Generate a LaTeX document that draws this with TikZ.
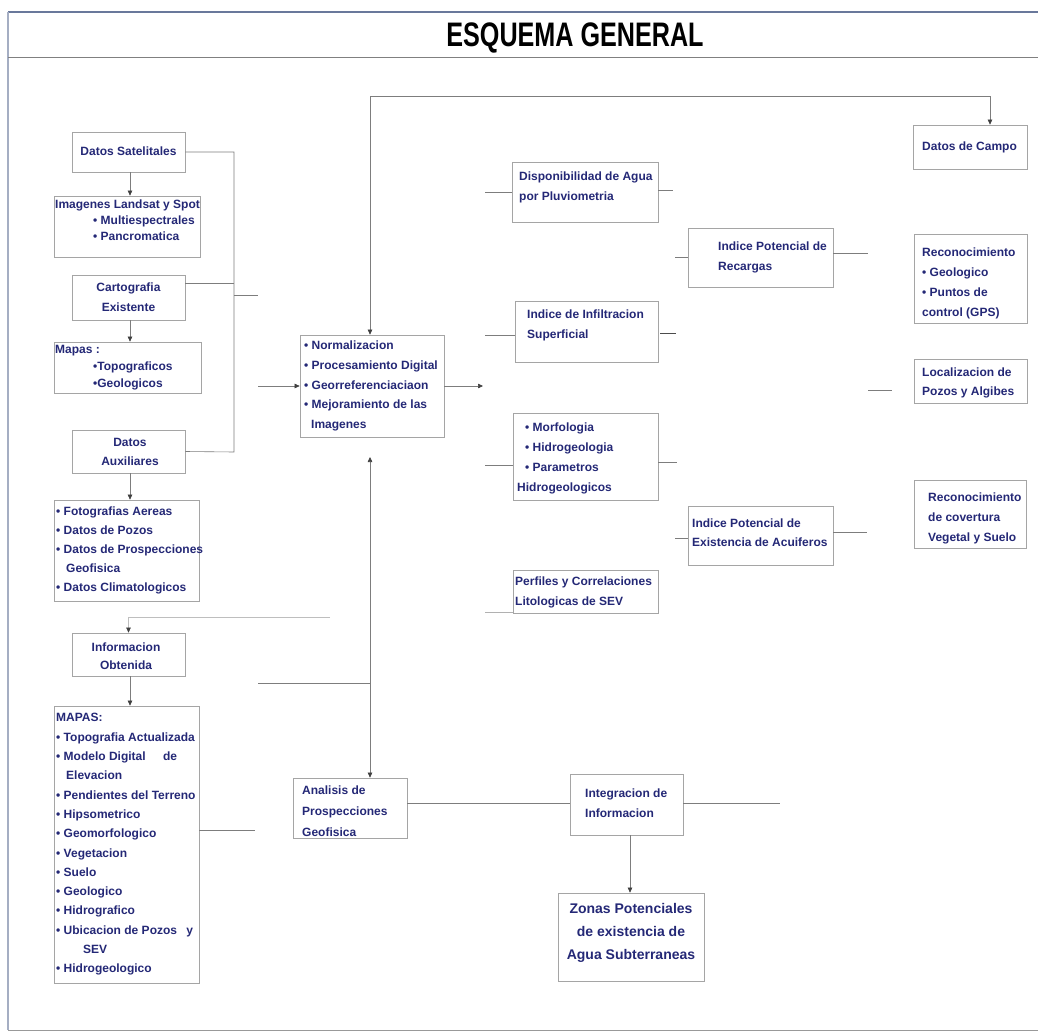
\documentclass[tikz,border=0pt]{standalone}
\usepackage{fontspec}
\setmainfont{Liberation Sans}
\newfontfamily\titlefont{Liberation Sans}[FakeStretch=0.74]
\usetikzlibrary{arrows.meta}
\definecolor{txt}{RGB}{36,40,118}
\definecolor{edgec}{RGB}{165,165,165}
\definecolor{wirec}{RGB}{125,125,125}
\definecolor{framec}{RGB}{105,120,155}
\newcommand{\fsz}[2]{\fontsize{#1}{#2}\selectfont\bfseries}
\newcommand{\mkbox}[5]{\node[box, minimum width={(#4-#2)*1pt}, minimum height={(#5-#3)*1pt}] (#1) at ({(#2+#4)/2},{(#3+#5)/2}) {};}
\begin{document}
\begin{tikzpicture}[x=1pt,y=-1pt,
  box/.style={draw=edgec, line width=0.7pt, rectangle, inner sep=0pt},
  lbl/.style={inner sep=0pt, anchor=west, align=left, text=txt, font=\fsz{12}{20}},
  clbl/.style={inner sep=0pt, align=center, text=txt, font=\fsz{12}{20}},
  wire/.style={draw=wirec, line width=0.6pt},
  >={Triangle[length=5pt,width=4.5pt,color=black!75]}
]
\useasboundingbox (0,0) rectangle (1038,1035);
% frame
\draw[framec, line width=1.6pt] (8,12) -- (1038,12);
\draw[framec!60, line width=1.2pt] (8,12) -- (8,1030);
\draw[gray, line width=1pt] (8,58) -- (1038,58);
\draw[gray!80, line width=1pt] (8,1030) -- (1038,1030);
\node[inner sep=0pt] (title) at (575,38) {\titlefont\fontsize{34}{34}\selectfont\bfseries ESQUEMA GENERAL};

% boxes
\mkbox{sat}{72}{132}{185}{172}
\mkbox{img}{54}{196}{200}{257}
\mkbox{cart}{72}{275}{185}{320}
\mkbox{mapa}{54}{342}{201}{393}
\mkbox{aux}{72}{430}{185}{473}
\mkbox{dat}{54}{500}{199}{601}
\mkbox{info}{72}{633}{185}{676}
\mkbox{mapas}{54}{706}{199}{983}
\mkbox{norm}{300}{335}{444}{437}
\mkbox{disp}{512}{162}{658}{222}
\mkbox{rec}{688}{228}{833}{287}
\mkbox{infil}{515}{301}{658}{362}
\mkbox{morf}{513}{413}{658}{500}
\mkbox{acu}{688}{506}{833}{565}
\mkbox{perf}{513}{570}{658}{613}
\mkbox{campo}{913}{125}{1027}{169}
\mkbox{recg}{914}{234}{1027}{323}
\mkbox{loc}{914}{359}{1027}{403}
\mkbox{recv}{914}{480}{1026}{548}
\mkbox{anal}{293}{778}{407}{838}
\mkbox{integ}{570}{774}{683}{835}
\mkbox{zonas}{558}{893}{704}{981}

% texts
\node[clbl] (sat-t) at (128.5,151) {Datos Satelitales};
\node[lbl, font=\fsz{12}{16}] (img-t) at (55,220) {Imagenes Landsat y Spot\\\hspace{38pt}• Multiespectrales\\\hspace{38pt}• Pancromatica};
\node[clbl] (cart-t) at (128.5,297) {Cartografia\\Existente};
\node[lbl, font=\fsz{12}{17}] (mapa-t) at (55,368) {Mapas :\\\hspace{38pt}•Topograficos\\\hspace{38pt}•Geologicos};
\node[clbl, font=\fsz{12}{19}] (aux-t) at (130,451.5) {Datos\\Auxiliares};
\node[lbl, font=\fsz{12}{19}] (dat-t) at (56,550.5) {• Fotografias Aereas\\• Datos de Pozos\\• Datos de Prospecciones\\\hspace{10pt}Geofisica\\• Datos Climatologicos};
\node[clbl, font=\fsz{12}{18}] (info-t) at (126,656) {Informacion\\Obtenida};
\node[lbl, font=\fsz{12}{19.3}] (mapas-t) at (56,844.5) {MAPAS:\\• Topografia Actualizada\\• Modelo Digital\hspace{14pt} de\\\hspace{10pt}Elevacion\\• Pendientes del Terreno\\• Hipsometrico\\• Geomorfologico\\• Vegetacion\\• Suelo\\• Geologico\\• Hidrografico\\• Ubicacion de Pozos\hspace{6pt} y\\\hspace{27pt}SEV\\• Hidrogeologico};
\node[lbl, font=\fsz{12}{19.7}] (norm-t) at (304,386) {• Normalizacion\\• Procesamiento Digital\\• Georreferenciaciaon\\• Mejoramiento de las\\\hspace{7pt}Imagenes};
\node[lbl] (disp-t) at (519,187) {Disponibilidad de Agua\\por Pluviometria};
\node[lbl] (rec-t) at (718,257) {Indice Potencial de\\Recargas};
\node[lbl] (infil-t) at (527,325) {Indice de Infiltracion\\Superficial};
\node[lbl] (morf-t) at (517,458) {\hspace{8pt}• Morfologia\\\hspace{8pt}• Hidrogeologia\\\hspace{8pt}• Parametros\\Hidrogeologicos};
\node[lbl, font=\fsz{12}{19}] (acu-t) at (692,532.5) {Indice Potencial de\\Existencia de Acuiferos};
\node[lbl] (perf-t) at (515,592) {Perfiles y Correlaciones\\Litologicas de SEV};
\node[lbl] (campo-t) at (922,147) {Datos de Campo};
\node[lbl] (recg-t) at (922,283) {Reconocimiento\\• Geologico\\• Puntos de\\control (GPS)};
\node[lbl, font=\fsz{12}{19}] (loc-t) at (922,382.5) {Localizacion de\\Pozos y Algibes};
\node[lbl] (recv-t) at (928,518) {Reconocimiento\\de covertura\\Vegetal y Suelo};
\node[lbl, font=\fsz{12}{21}] (anal-t) at (302,811) {Analisis de\\Prospecciones\\Geofisica};
\node[lbl] (integ-t) at (585,803) {Integracion de\\Informacion};
\node[clbl, font=\fsz{14}{23}] (zonas-t) at (631,933) {Zonas Potenciales\\de existencia de\\Agua Subterraneas};

% left column arrows
\draw[wire,->] (sat.south -| 130,0) -- (img.north -| 130,0);
\draw[wire,->] (cart.south -| 130,0) -- (mapa.north -| 130,0);
\draw[wire,->] (aux.south -| 130,0) -- (dat.north -| 130,0);
\draw[wire,->] (info.south -| 130,0) -- (mapas.north -| 130,0);
\coordinate (h2) at (330,617);
\draw[wire,draw=wirec!50,->] (h2) -- (info.north |- h2) -- (info.north);

% left bus
\coordinate (busT) at (234,152);
\coordinate (busB) at (234,452);
\draw[wire] (sat.east) -- (busT) -- (busB) -- (aux.east);
\draw[wire] (cart.east |- 0,283) -- (234,283);
\coordinate (s1) at (234,295);
\coordinate (s1e) at (258,295);
\draw[wire] (s1) -- (s1e);
\coordinate (a1) at (258,386);
\draw[wire,->] (a1) -- (norm.west);

% top loop
\coordinate (tl) at (370,96);
\coordinate (tr) at (990,96);
\draw[wire,<->] (tl |- norm.north) -- (tl) -- (tr) -- (tr |- campo.north);

% out of norm
\coordinate (a2) at (483,386);
\draw[wire,->] (norm.east) -- (a2);

% central vertical
\coordinate (vU) at (370,457);
\draw[wire,<->] (vU) -- (vU |- anal.north);
\coordinate (h1) at (258,683);
\draw[wire] (h1) -- (h1 -| vU);
\coordinate (m1) at (255,830);
\draw[wire] (mapas.east |- m1) -- (m1);

% middle stubs
\draw[wire] (485,192) -- (disp.west |- 0,192);
\draw[wire] (disp.east |- 0,190) -- (673,190);
\draw[wire] (485,335) -- (infil.west |- 0,335);
\draw[wire, draw=black!70, line width=0.8pt] (infil.east |- 0,333) ++(2,0) -- (676,333);
\draw[wire] (485,465) -- (morf.west |- 0,465);
\draw[wire] (morf.east |- 0,462) -- (677,462);
\draw[wire, draw=wirec!60] (485,612) -- (perf.west |- 0,612);
\draw[wire] (675,257) -- (rec.west |- 0,257);
\draw[wire] (rec.east |- 0,253) -- (868,253);
\draw[wire] (675,538) -- (acu.west |- 0,538);
\draw[wire] (acu.east |- 0,532) -- (867,532);
\coordinate (l1) at (868,390);
\coordinate (l2) at (892,390);
\draw[wire] (l1) -- (l2);

% bottom
\draw[wire] (anal.east |- 0,803) -- (integ.west |- 0,803);
\coordinate (ie) at (780,803);
\draw[wire] (integ.east |- ie) -- (ie);
\draw[wire,->] (integ.south -| 630,0) -- (zonas.north -| 630,0);
\end{tikzpicture}
\end{document}
